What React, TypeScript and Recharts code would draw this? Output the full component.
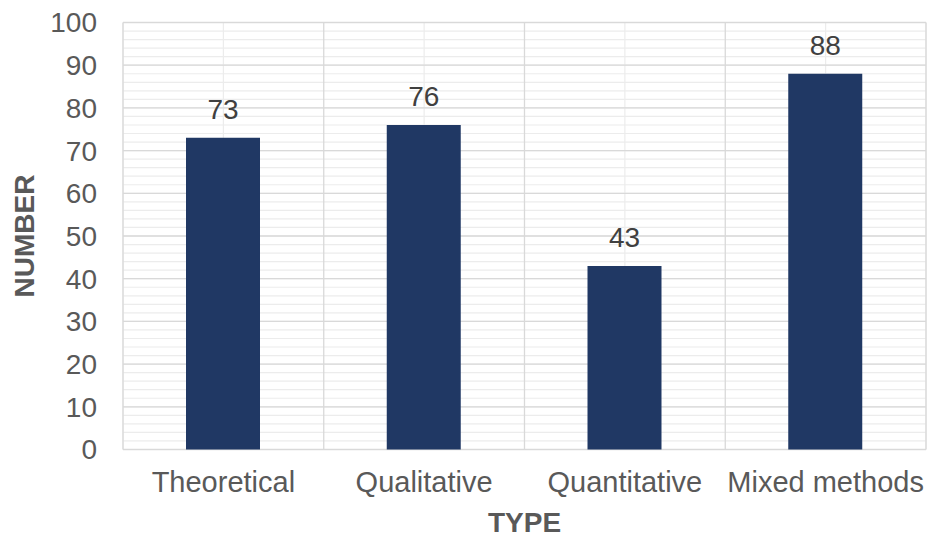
import {
  BarChart,
  Bar,
  XAxis,
  YAxis,
  CartesianGrid,
  LabelList,
  Label,
} from "recharts";

const categories = ["Theoretical", "Qualitative", "Quantitative", "Mixed methods"];
const counts = [73, 76, 43, 88];
const majorTicks = [0, 10, 20, 30, 40, 50, 60, 70, 80, 90, 100];
const minorTicks = [
  0, 2, 4, 6, 8, 10, 12, 14, 16, 18, 20, 22, 24, 26, 28, 30, 32, 34, 36, 38, 40,
  42, 44, 46, 48, 50, 52, 54, 56, 58, 60, 62, 64, 66, 68, 70, 72, 74, 76, 78, 80,
  82, 84, 86, 88, 90, 92, 94, 96, 98, 100,
];

const data = categories.map((type, i) => ({ type, value: counts[i] }));

const FONT = "'Liberation Sans', Arial, sans-serif";

// vertical separators between categories, derived from the plot area
const boundaryLines = ({ offset }: any) =>
  [0, 1, 2, 3, 4].map((i) => offset.left + (offset.width * i) / categories.length);

export default function App() {
  return (
    <div style={{ position: "absolute", left: 0, top: 0, fontFamily: FONT }}>
      <BarChart
        width={928}
        height={537}
        data={data}
        margin={{ top: 22.5, right: 2, bottom: 0, left: 0 }}
      >
        {/* minor grid */}
        <CartesianGrid horizontalValues={minorTicks} stroke="#ececec" strokeWidth={1.2} />
        {/* major grid */}
        <CartesianGrid
          horizontalValues={majorTicks}
          verticalCoordinatesGenerator={boundaryLines}
          stroke="#d9d9d9"
          strokeWidth={1.3}
        />
        <XAxis
          dataKey="type"
          height={87.5}
          axisLine={false}
          tickLine={false}
          tickSize={0}
          tickMargin={22}
          tick={{ fill: "#595959", fontSize: 29, fontFamily: FONT }}
          interval={0}
        >
          <Label
            value="TYPE"
            position="insideBottom"
            offset={5}
            style={{ fill: "#595959", fontSize: 28, fontWeight: "bold", fontFamily: FONT }}
          />
        </XAxis>
        <YAxis
          width={123}
          domain={[0, 100]}
          ticks={majorTicks}
          interval={0}
          axisLine={false}
          tickLine={false}
          tickSize={0}
          tickMargin={26}
          tick={{ fill: "#595959", fontSize: 28, fontFamily: FONT }}
        >
          <Label
            value="NUMBER"
            angle={-90}
            position="insideLeft"
            offset={24}
            style={{
              textAnchor: "middle",
              fill: "#595959",
              fontSize: 28,
              fontWeight: "bold",
              fontFamily: FONT,
            }}
          />
        </YAxis>
        <Bar dataKey="value" fill="#203864" barSize={74} isAnimationActive={false}>
          <LabelList
            dataKey="value"
            position="top"
            offset={19}
            style={{ fill: "#404040", fontSize: 28, fontFamily: FONT }}
          />
        </Bar>
      </BarChart>
    </div>
  );
}
